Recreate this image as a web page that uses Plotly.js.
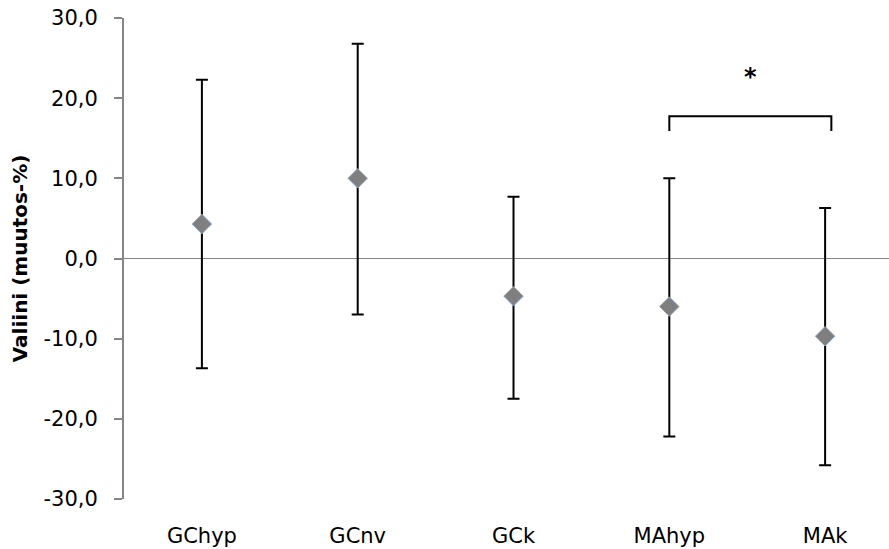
<!DOCTYPE html>
<html>
<head>
<meta charset="utf-8">
<script src="https://cdn.plot.ly/plotly-3.0.1.min.js"></script>
<style>html,body{margin:0;padding:0;background:#fff;}#chart{width:889px;height:549px;}</style>
</head>
<body>
<div id="chart"></div>
<script>
const categories = ["GChyp", "GCnv", "GCk", "MAhyp", "MAk"];
const means = [4.3, 10.0, -4.7, -6.0, -9.7];
const upper = [22.3, 26.8, 7.7, 10.0, 6.3];
const lower = [-13.7, -7.0, -17.5, -22.2, -25.8];
const yTicks = [-30, -20, -10, 0, 10, 20, 30];
const yTickText = ["-30,0", "-20,0", "-10,0", "0,0", "10,0", "20,0", "30,0"];
const sigPair = ["MAhyp", "MAk"];
const sigLabel = "*";
const bracketY = [15.9, 17.75];
const starY = 22.6;

const idx = categories.map((c, i) => i);
const errPlus = means.map((m, i) => upper[i] - m);
const errMinus = means.map((m, i) => m - lower[i]);

const font = "DejaVu Sans, Verdana, sans-serif";
const i0 = categories.indexOf(sigPair[0]);
const i1 = categories.indexOf(sigPair[1]) + 0.04;

const trace = {
  x: idx,
  y: means,
  type: "scatter",
  mode: "markers",
  marker: {symbol: "diamond", size: 15, color: "#7f7f7f", line: {color: "#8eaad6", width: 1}},
  error_y: {type: "data", symmetric: false, array: errPlus, arrayminus: errMinus,
            color: "#000000", thickness: 2, width: 6},
  hoverinfo: "skip"
};

const layout = {
  width: 889, height: 549,
  margin: {l: 124, r: 0, t: 18, b: 50},
  paper_bgcolor: "#ffffff", plot_bgcolor: "#ffffff",
  showlegend: false,
  xaxis: {
    range: [-0.5, 4.41],
    tickmode: "array", tickvals: idx, ticktext: categories,
    showline: false, showgrid: false, zeroline: false,
    ticks: "", ticklabelstandoff: 22,
    tickfont: {family: font, size: 21, color: "#000"},
    fixedrange: true
  },
  yaxis: {
    range: [-30, 30],
    tickmode: "array", tickvals: yTicks, ticktext: yTickText,
    showline: true, linecolor: "#868686", linewidth: 2,
    ticks: "outside", ticklen: 8, tickcolor: "#868686", tickwidth: 2,
    ticklabelstandoff: 12,
    showgrid: false,
    zeroline: true, zerolinecolor: "#868686", zerolinewidth: 1.5,
    tickfont: {family: font, size: 21, color: "#000"},
    title: {text: "<b>Valiini (muutos-%)</b>", font: {family: font, size: 20, color: "#000"}, standoff: 10},
    fixedrange: true
  },
  shapes: [{
    type: "path", xref: "x", yref: "y",
    path: `M ${i0} ${bracketY[0]} L ${i0} ${bracketY[1]} L ${i1} ${bracketY[1]} L ${i1} ${bracketY[0]}`,
    line: {color: "#000", width: 2}
  }],
  annotations: [{
    x: (i0 + i1) / 2, y: starY, xref: "x", yref: "y",
    text: "<b>" + sigLabel + "</b>", showarrow: false,
    font: {family: font, size: 24, color: "#000"},
    xanchor: "center", yanchor: "middle"
  }]
};

Plotly.newPlot("chart", [trace], layout, {displayModeBar: false, staticPlot: true});
</script>
</body>
</html>
